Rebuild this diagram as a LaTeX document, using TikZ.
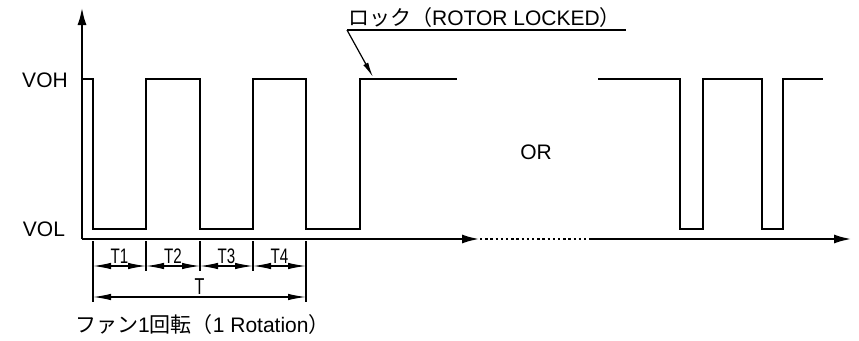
\documentclass[tikz,border=0pt]{standalone}
\usepackage{fontspec}
\usepackage{graphicx}
\setmainfont{Liberation Sans}
\newfontfamily\jfont{Noto Sans CJK JP}
\usetikzlibrary{arrows.meta,calc}

\begin{document}
\begin{tikzpicture}[x=1pt,y=-1pt,
  wave/.style={line width=2.6pt,line join=miter},
  axis/.style={line width=2.6pt,-{Latex[length=18pt,width=9pt]}},
  dots/.style={line width=2.4pt,dash pattern=on 2.4pt off 2.8pt},
  ext/.style={line width=1.2pt},
  dim/.style={ext,{Latex[length=18pt,width=6.5pt]}-{Latex[length=18pt,width=6.5pt]}},
  lead/.style={ext,-{Latex[length=15pt,width=5.5pt]}},
  lbl/.style={font=\fontsize{21}{23}\selectfont,inner sep=0pt},
  tlbl/.style={font=\fontsize{21}{22}\selectfont,inner sep=0pt,anchor=south}]
\useasboundingbox (0,0) rectangle (859,340);
% axes
\coordinate (o) at (82,239);
\coordinate (ytop) at (82,7);
\coordinate (brk1) at (480,239);
\coordinate (brk2) at (591,239);
\coordinate (xend) at (852,239);
\draw[axis] (o) -- (ytop);
\draw[axis] (o) -- (brk1);
\draw[dots] (brk1) -- (brk2);
\draw[axis] (brk2) -- (xend);
\node[lbl] (voh) at (45,80) {VOH};
\node[lbl] (vol) at (44,229) {VOL};
% rotating fan output
\draw[wave] (83,79) -- (93,79) -- (93,229) -- (146,229) -- (146,79)
  -- (200,79) -- (200,229) -- (253,229) -- (253,79) -- (306,79)
  -- (306,229) -- (360,229) -- (360,79) -- (457,79);
\node[lbl] (or) at (536,152) {OR};
\draw[wave] (598,79) -- (680,79) -- (680,229) -- (703,229) -- (703,79)
  -- (762,79) -- (762,229) -- (783,229) -- (783,79) -- (823,79);
% locked label
\node[lbl,anchor=base west] (lock) at (348,25)
  {{\jfont ロック（}ROTOR LOCKED{\jfont ）}};
\coordinate (ul1) at (347,30);
\coordinate (ul2) at (626,30);
\coordinate (lockpt) at (373,77);
\draw[ext] (ul1) -- (ul2);
\draw[lead] (ul1) -- (lockpt);
% dimensions
\foreach \n/\x in {0/93,1/146,2/200,3/253,4/306}
  \coordinate (t\n) at (\x,266);
\foreach \x in {146,200,253}
  \draw[ext] (\x,241) -- (\x,271);
\foreach \x in {93,306}
  \draw[ext] (\x,241) -- (\x,302);
\foreach \a/\b/\k in {0/1/1,1/2/2,2/3/3,3/4/4}{
  \draw[dim] (t\a) -- (t\b);
  \node[tlbl] (lt\k) at ($(t\a)!.5!(t\b)+(0,-2)$) {\scalebox{.72}[1]{T\k}};
}
\coordinate (ta) at (93,297);
\coordinate (tb) at (306,297);
\draw[dim] (ta) -- (tb);
\node[tlbl,font=\fontsize{23}{24}\selectfont] (lt) at (199.5,295) {\scalebox{.7}[1]{T}};
\node[lbl,anchor=west] (rot) at (75,325)
  {{\jfont ファン}1{\jfont 回転（}1 Rotation{\jfont ）}};
\end{tikzpicture}
\end{document}
